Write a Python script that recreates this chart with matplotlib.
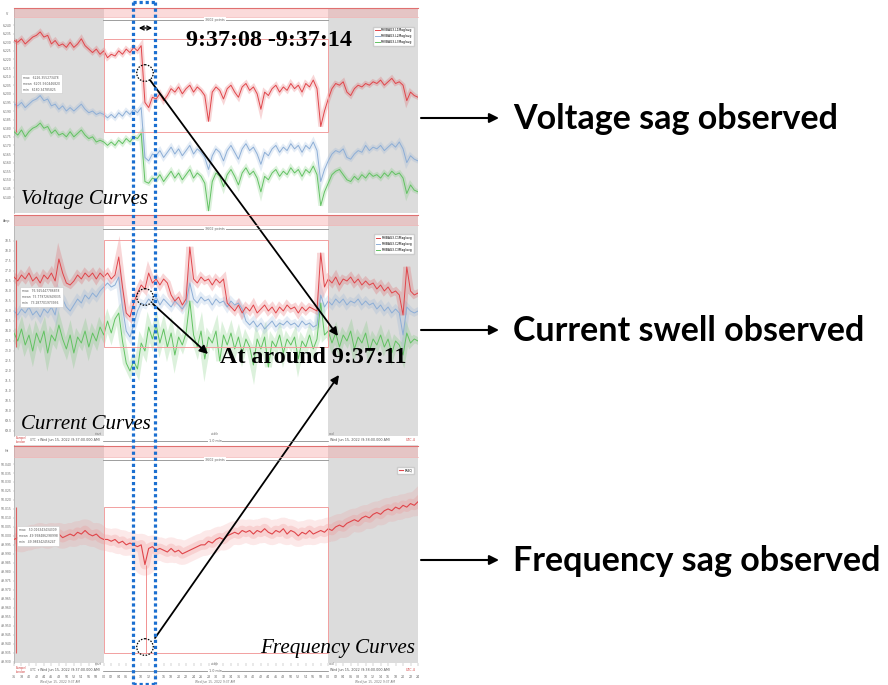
import matplotlib
matplotlib.use('Agg')
import matplotlib.pyplot as plt
from matplotlib.patches import Rectangle, Circle, FancyArrowPatch

W, H = 888, 685

# time axis: seconds relative to 9:37:00
t = list(range(-24, 85))

volt_l1 = [6231, 6230, 6232, 6229, 6231, 6233, 6234, 6236, 6233, 6234, 6229, 6231, 6228, 6229, 6227, 6230, 6227, 6229, 6232, 6228, 6226, 6224, 6226, 6223, 6225,
           6221, 6223, 6222, 6225, 6223, 6226, 6224, 6227, 6225, 6228,
           6195, 6192, 6198, 6197, 6200, 6196, 6199, 6203, 6201, 6204,
           6200, 6203, 6205, 6201, 6204, 6202, 6199, 6184, 6201, 6204,
           6202, 6197, 6203, 6205, 6201, 6198, 6204, 6206, 6202, 6204,
           6200, 6191, 6201, 6199, 6203, 6205, 6201, 6204, 6202, 6206,
           6203, 6205, 6201, 6206, 6204, 6208, 6203, 6181, 6190, 6197,
           6203, 6206, 6205, 6207, 6201, 6199, 6203, 6205, 6204, 6206,
           6205, 6207, 6206, 6208, 6205, 6207, 6209, 6206, 6207, 6205,
           6196, 6201, 6199, 6198]
volt_l2 = [6194, 6193, 6195, 6192, 6194, 6196, 6197, 6199, 6196, 6197, 6193, 6194, 6191, 6193, 6190, 6192, 6190, 6192, 6194, 6191, 6189, 6190, 6188, 6189, 6188,
           6186, 6188, 6186, 6189, 6187, 6190, 6188, 6191, 6189, 6192,
           6163, 6161, 6165, 6164, 6167, 6163, 6166, 6169, 6165, 6168,
           6164, 6167, 6170, 6165, 6168, 6166, 6163, 6156, 6164, 6168,
           6166, 6161, 6167, 6170, 6166, 6162, 6168, 6171, 6167, 6169,
           6165, 6159, 6166, 6164, 6168, 6170, 6166, 6169, 6167, 6171,
           6168, 6170, 6166, 6170, 6168, 6172, 6167, 6149, 6156, 6161,
           6165, 6167, 6166, 6168, 6163, 6162, 6165, 6167, 6166, 6170,
           6167, 6169, 6168, 6170, 6167, 6169, 6171, 6169, 6172, 6168,
           6160, 6164, 6162, 6161]
volt_l3 = [6178, 6176, 6179, 6175, 6178, 6180, 6181, 6183, 6180, 6181, 6177, 6179, 6176, 6177, 6175, 6178, 6175, 6177, 6179, 6176, 6174, 6175, 6172, 6173, 6172,
           6170, 6172, 6170, 6173, 6171, 6174, 6172, 6175, 6174, 6177,
           6149, 6148, 6151, 6150, 6153, 6149, 6152, 6155, 6151, 6154,
           6150, 6153, 6156, 6151, 6154, 6152, 6148, 6132, 6149, 6154,
           6152, 6146, 6153, 6156, 6152, 6147, 6154, 6157, 6153, 6155,
           6151, 6143, 6152, 6150, 6154, 6156, 6152, 6155, 6153, 6157,
           6154, 6156, 6152, 6156, 6154, 6158, 6153, 6135, 6143, 6148,
           6153, 6155, 6156, 6153, 6150, 6149, 6152, 6150, 6153, 6151,
           6154, 6152, 6153, 6151, 6154, 6152, 6155, 6153, 6154, 6151,
           6142, 6147, 6144, 6143]

cur_c1 = [76.7, 76.5, 76.8, 76.6, 76.9, 76.5, 76.7, 76.4, 76.8, 76.6, 76.9, 76.5, 77.6, 76.9, 76.4, 76.3, 76.5, 76.8, 76.6, 76.9, 76.7, 76.9, 76.6, 76.9, 76.7,
          76.9, 76.6, 76.8, 77.7, 76.2, 74.9, 74.7, 75.4, 75.9, 76.3,
          76.1, 76.9, 76.4, 76.6, 76.3, 76.6, 76.4, 75.8, 75.5, 75.7,
          75.3, 75.6, 78.2, 76.6, 76.4, 76.7, 76.5, 76.6, 76.3, 76.6,
          76.4, 76.6, 75.4, 75.2, 75.0, 75.3, 74.9, 75.2, 75.0, 75.3,
          74.9, 75.1, 75.3, 75.0, 75.2, 74.9, 75.2, 75.0, 75.3, 75.1,
          75.2, 74.9, 75.2, 75.0, 75.2, 75.1, 75.0, 77.9, 76.2, 76.6,
          76.4, 76.7, 76.3, 76.6, 76.5, 76.7, 76.4, 76.6, 76.3, 76.5,
          76.3, 76.4, 76.1, 76.3, 76.0, 76.2, 75.9, 76.0, 75.8, 74.8,
          77.2, 76.0, 75.8, 75.9]
cur_c2 = [75.0, 74.8, 75.1, 74.9, 75.2, 74.8, 75.0, 74.7, 75.1, 74.9, 75.2, 74.8, 75.9, 75.6, 75.2, 75.0, 75.3, 75.6, 75.4, 75.8, 75.6, 75.9, 75.7, 76.0, 76.2,
          76.4, 76.2, 76.3, 76.7, 75.2, 74.0, 73.7, 74.3, 75.0, 75.4,
          75.3, 75.6, 75.4, 75.7, 75.3, 75.6, 75.4, 75.2, 75.5, 75.3,
          75.1, 75.4, 76.4, 75.6, 75.4, 75.7, 75.5, 75.6, 75.3, 75.6,
          75.4, 75.5, 75.2, 75.5, 75.3, 75.4, 75.1, 74.5, 74.3, 74.5,
          74.2, 74.4, 74.1, 74.3, 74.5, 74.2, 74.4, 74.3, 74.5, 74.3,
          74.4, 74.2, 74.5, 74.3, 74.4, 74.2, 74.3, 75.8, 75.2, 75.5,
          75.3, 75.6, 75.4, 75.6, 75.3, 75.5, 75.4, 75.6, 75.3, 75.5,
          75.3, 75.4, 75.1, 75.3, 75.0, 75.2, 74.9, 75.1, 74.9, 73.8,
          75.2, 75.0, 74.9, 75.0]
cur_c3 = [73.9, 73.5, 74.1, 73.3, 73.8, 73.0, 73.9, 73.4, 74.0, 72.9, 73.8, 73.5, 74.3, 73.6, 73.1, 73.8, 72.9, 73.7, 73.4, 74.0, 73.2, 73.9, 73.5, 74.2, 73.8,
          74.5, 73.9, 74.6, 74.9, 73.5, 72.4, 72.0, 72.5, 72.1, 73.4,
          73.0, 74.2, 73.6, 74.3, 73.4, 74.1, 73.2, 73.9, 72.8, 73.7,
          73.3, 73.9, 75.5, 73.8, 73.2, 74.0, 72.6, 73.7, 73.4, 74.0,
          72.5, 73.8, 73.3, 73.9, 73.1, 73.7, 72.9, 73.6, 73.2, 72.3,
          73.6, 73.1, 73.7, 72.2, 73.5, 73.2, 73.8, 72.9, 73.6, 73.3,
          73.7, 72.6, 73.5, 73.2, 73.8, 73.1, 73.6, 75.4, 73.8, 74.0,
          73.4, 73.9, 73.2, 73.8, 73.5, 74.0, 73.1, 73.7, 73.4, 73.9,
          73.0, 73.6, 73.3, 73.8, 73.2, 73.6, 72.9, 73.5, 73.3, 72.8,
          73.9, 73.4, 73.6, 73.5]

freq = [49.998, 49.999, 49.997, 49.999, 49.998, 50.000, 49.999, 50.001, 50.000, 49.999, 50.001, 50.000, 50.001, 49.999, 50.000, 50.001, 50.000, 50.002, 50.001, 50.003, 50.001, 50.000, 50.001, 49.999, 49.998,
        49.998, 49.997, 49.998, 49.996, 49.997, 49.995, 49.996, 49.995, 49.994, 49.995,
        49.984, 49.993, 49.994, 49.992, 49.993, 49.992, 49.991, 49.993, 49.991, 49.992,
        49.990, 49.991, 49.992, 49.993, 49.994, 49.995, 49.995, 49.997, 49.996, 49.998,
        49.999, 49.998, 50.000, 50.001, 50.002, 50.001, 50.003, 50.002, 50.003, 50.001,
        50.003, 50.002, 50.004, 50.002, 50.001, 50.003, 50.002, 50.004, 50.001, 50.003,
        50.002, 50.000, 50.002, 50.001, 50.003, 50.001, 50.002, 50.003, 50.002, 50.004,
        50.003, 50.005, 50.006, 50.005, 50.007, 50.008, 50.009, 50.008, 50.010, 50.011,
        50.010, 50.012, 50.013, 50.012, 50.014, 50.015, 50.014, 50.016, 50.015, 50.017,
        50.016, 50.018, 50.017, 50.019]

volt_ticks = list(range(6140, 6245, 5))
cur_ticks = [69.0 + 0.5 * i for i in range(20)]
freq_ticks = [49.930 + 0.005 * i for i in range(23)]

volt_labels = ['PHVBAG3.L1Mag/avg', 'PHVBAG3.L2Mag/avg', 'PHVBAG3.L3Mag/avg']
cur_labels = ['PHIBAG3.C1Mag/avg', 'PHIBAG3.C2Mag/avg', 'PHIBAG3.C3Mag/avg']
freq_label = 'FREQ'

RED, BLUE, GREEN = '#e0454a', '#8daed6', '#62c262'
GREY = '#dcdcdc'

for arr in (volt_l1, volt_l2, volt_l3, cur_c1, cur_c2, cur_c3, freq):
    assert len(arr) == len(t)

fig = plt.figure(figsize=(W / 100, H / 100), dpi=100)


def px_axes(l, tp, r, b):
    return fig.add_axes([l / W, 1 - b / H, (r - l) / W, (b - tp) / H])


def style(ax, ylim, ticks, fmt):
    ax.set_xlim(-24, 84)
    ax.set_ylim(*ylim)
    ax.axvspan(-24, 0, color=GREY, zorder=0, lw=0)
    ax.axvspan(60, 84, color=GREY, zorder=0, lw=0)
    ax.set_yticks(ticks)
    ax.set_yticklabels([fmt(v) for v in ticks], fontsize=2.2, color='#666')
    ax.tick_params(axis='y', length=1, width=0.3, pad=0.8, color='#999')
    ax.set_xticks([])
    for s in ['top', 'right', 'bottom']:
        ax.spines[s].set_visible(False)
    ax.spines['left'].set_color('#aaa')
    ax.spines['left'].set_linewidth(0.5)


def series(ax, y, color, env_lw, label=None):
    ax.plot(t, y, color=color, lw=env_lw, alpha=0.22, solid_joinstyle='miter', zorder=2)
    ax.plot(t, y, color=color, lw=0.7, zorder=3, label=label)


def statbox(ax, x, y, lines):
    ax.text(x, y, '\n'.join(lines), transform=ax.transAxes, fontsize=2.2, color='#555', va='center', ha='left',
            linespacing=1.6, zorder=6, bbox=dict(boxstyle='square,pad=0.6', fc='white', ec='#cccccc', lw=0.4))


def legend(ax, y, rev=True):
    h, l = ax.get_legend_handles_labels()
    if rev:
        h, l = h[::-1], l[::-1]
    ax.legend(h, l, loc='upper right', bbox_to_anchor=(0.995, y), fontsize=2.2, handlelength=1.5,
              handletextpad=0.5, borderpad=0.6, labelspacing=0.6, fancybox=False, edgecolor='#cccccc',
              framealpha=1)


# ---- Voltage panel
ax1 = px_axes(14, 8, 418, 213)
style(ax1, (6130.7, 6249.9), volt_ticks, lambda v: f'{v:,.0f}')
series(ax1, volt_l3, GREEN, 3.5, volt_labels[2])
series(ax1, volt_l2, BLUE, 3.5, volt_labels[1])
series(ax1, volt_l1, RED, 3.5, volt_labels[0])
ax1.add_patch(Rectangle((0, 6178), 60, 54, fill=False, ec='#f2a0a0', lw=0.7, zorder=4))
ax1.vlines(-23.5, 6178, 6232, color='#e06060', lw=0.8, zorder=4)
legend(ax1, 0.917)
statbox(ax1, 0.022, 0.63, ['max   6226.355273478', 'mean  6205.560446820', 'min   6180.34785825'])

# ---- Current panel
ax2 = px_axes(14, 215, 418, 436)
style(ax2, (68.75, 79.8), cur_ticks, lambda v: f'{v:.1f}')
series(ax2, cur_c3, GREEN, 5, cur_labels[2])
series(ax2, cur_c2, BLUE, 5, cur_labels[1])
series(ax2, cur_c1, RED, 5, cur_labels[0])
ax2.add_patch(Rectangle((0, 73.2), 60, 5.35, fill=False, ec='#f2a0a0', lw=0.7, zorder=4))
ax2.vlines(-23.5, 73.2, 78.55, color='#e06060', lw=0.8, zorder=4)
legend(ax2, 0.919)
statbox(ax2, 0.02, 0.629, ['max   76.925447786878', 'mean  75.779726949035', 'min   73.287701973936'])

# ---- Frequency panel
ax3 = px_axes(14, 445, 418, 663)
style(ax3, (49.9292, 50.0506), freq_ticks, lambda v: f'{v:.3f}')
ax3.plot(t, freq, color='#f08a8a', lw=16, alpha=0.18, zorder=2)
ax3.plot(t, freq, color='#f08a8a', lw=7, alpha=0.25, zorder=2)
ax3.plot(t, freq, color=RED, lw=0.8, zorder=3, label=freq_label)
ax3.add_patch(Rectangle((0, 49.935), 60, 0.081, fill=False, ec='#f2a0a0', lw=0.7, zorder=4))
ax3.vlines(-23.5, 49.935, 50.016, color='#e06060', lw=0.8, zorder=4)
ax3.vlines(11.2, 49.935, 49.984, color='#f08080', lw=0.6, zorder=4)
legend(ax3, 0.908, rev=False)
statbox(ax3, 0.012, 0.583, ['max   50.016343434309', 'mean  49.998486298998', 'min   49.984342456247'])
xt = list(range(-24, 85, 2))
ax3.set_xticks(xt)
ax3.set_xticklabels([f'{(v + 60) % 60:02d}' for v in xt], fontsize=2.3, color='#666')
ax3.tick_params(axis='x', length=2, width=0.3, pad=7, color='#999', direction='out')

# ---- Overlay (figure pixel coordinates)
ov = fig.add_axes([0, 0, 1, 1])
ov.set_xlim(0, W)
ov.set_ylim(H, 0)
ov.set_axis_off()
ov.patch.set_alpha(0)

for y, unit in [(14, 'V'), (221, 'Amp'), (451, 'Hz')]:
    ov.text(7, y, unit, fontsize=2.3, color='#666', ha='center', va='center')

for (top, bot) in [(8, 17), (215, 225), (446, 457)]:
    ov.add_patch(Rectangle((14, top), 404, bot - top, fc='#f5a3a3', alpha=0.4, lw=0))
    ov.plot([14, 418], [top, top], color='#e07070', lw=0.8)
    ov.plot([14, 418], [bot, bot], color='#f3b0b0', lw=0.5)

for y in (20, 229, 460):
    ov.plot([103, 328], [y, y], color='#777', lw=0.5)
    ov.text(215, y, '3602 points', fontsize=2.4, color='#666', ha='center', va='center',
            bbox=dict(fc='white', ec='none', pad=0.5))

for y in (440, 670):
    ov.plot([103, 328], [y + 1, y + 1], color='#777', lw=0.5)
    ov.text(215, y + 1, '1.0 min', fontsize=2.4, color='#666', ha='center', va='center',
            bbox=dict(fc='white', ec='none', pad=0.5))
    ov.text(16, y, 'Europe/\nLondon', fontsize=2.1, color='#d04040', ha='left', va='center')
    ov.text(30, y, 'UTC  ▾', fontsize=2.2, color='#666', ha='left', va='center')
    ov.text(100, y, 'Wed Jun 15, 2022 (9:37:00.000 AM)', fontsize=2.4, color='#555', ha='right', va='center')
    ov.text(330, y, 'Wed Jun 15, 2022 (9:38:00.000 AM)', fontsize=2.4, color='#555', ha='left', va='center')
    ov.text(416, y, 'UTC-4', fontsize=2.4, color='#d04040', ha='right', va='center')
    ov.text(98, y - 6, 'start', fontsize=2.2, color='#777', ha='center', va='center')
    ov.text(215, y - 6, 'width', fontsize=2.2, color='#777', ha='center', va='center')
    ov.text(332, y - 6, 'end', fontsize=2.2, color='#777', ha='center', va='center')
for x in (60, 215, 375):
    ov.text(x, 682, 'Wed Jun 15, 2022 9:37 AM', fontsize=2.2, color='#777', ha='center', va='center')

# blue dotted selection box
blue = '#1b6fd0'
for xs, ys in [([133, 133], [2, 684]), ([155, 155], [2, 684]), ([133, 155], [2, 2]), ([133, 155], [684, 684])]:
    ov.plot(xs, ys, color=blue, lw=2.3, ls=(0, (1, 0.9)))

ov.add_patch(FancyArrowPatch((136, 28), (155, 28), arrowstyle='<->', mutation_scale=7, lw=1, color='black'))

serif = 'Liberation Serif'
ov.text(186, 40, '9:37:08 -9:37:14', family=serif, weight='bold', fontsize=17.3, ha='left', va='center')
ov.text(220, 357, 'At around 9:37:11', family=serif, weight='bold', fontsize=17.3, ha='left', va='center')
ov.text(21, 199, 'Voltage Curves', family=serif, style='italic', fontsize=15, ha='left', va='center')
ov.text(21, 424, 'Current Curves', family=serif, style='italic', fontsize=15, ha='left', va='center')
ov.text(260, 648, 'Frequency Curves', family=serif, style='italic', fontsize=15.2, ha='left', va='center')

for (cx, cy) in [(145, 73), (145, 297), (145, 647)]:
    ov.add_patch(Circle((cx, cy), 8.3, fill=False, ec='black', lw=0.9, ls=(0, (1.2, 1.2))))


def arrow(p0, p1, ms=12, lw=1.3):
    ov.add_patch(FancyArrowPatch(p0, p1, arrowstyle='-|>', mutation_scale=ms, lw=lw, color='black',
                                 shrinkA=0, shrinkB=0))


arrow((150, 80), (338, 336))
arrow((153, 304), (208, 354))
arrow((155, 638), (339, 375))

sans = 'Lato'
for y, txt in [(118, 'Voltage sag observed'), (330, 'Current swell observed'), (560, 'Frequency sag observed')]:
    arrow((421, y), (499, y), ms=14, lw=1.5)
    ov.text(513, y + 1, txt, family=sans, weight='bold', fontsize=24.5, ha='left', va='center')

fig.savefig('out.png', dpi=100)
